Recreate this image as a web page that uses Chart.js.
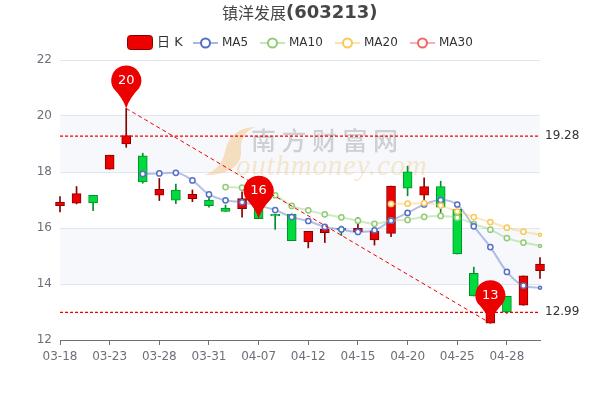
<!DOCTYPE html>
<html>
<head>
<meta charset="utf-8">
<style>
  html, body { margin: 0; padding: 0; background: #fff; }
  canvas { display: block; }
</style>
<script src="https://cdn.jsdelivr.net/npm/chart.js@4"></script>
</head>
<body>
<canvas id="chart" width="600" height="400"></canvas>
<script>
const days = ['03-18','03-21','03-22','03-23','03-24','03-25','03-28','03-29','03-30','03-31',
  '04-01','04-06','04-07','04-08','04-11','04-12','04-13','04-14','04-15','04-18',
  '04-19','04-20','04-21','04-22','04-25','04-26','04-27','04-28','04-29','05-05'];

const opens  = [16.80,16.89,17.17,18.10,19.00,18.58,17.17,17.35,17.05,17.00,16.71,16.69,16.90,16.49,16.50,15.50,15.83,15.99,15.86,15.57,15.81,18.01,17.17,17.48,16.67,14.38,12.60,13.56,13.24,14.48];
const closes = [16.93,17.23,16.90,18.60,19.30,17.65,17.38,16.99,17.20,16.80,16.59,17.05,16.33,16.43,15.55,15.88,15.96,15.93,15.99,15.88,17.50,17.42,17.48,16.74,15.07,13.57,13.50,12.99,14.29,14.71];
const lows   = [16.57,16.86,16.62,18.10,18.88,17.60,16.98,16.87,16.94,16.74,16.59,16.39,16.33,15.95,15.55,15.29,15.48,15.73,15.82,15.39,15.69,17.15,17.00,16.55,15.07,13.57,12.60,12.95,13.24,14.20];
const highs  = [17.12,17.48,17.17,18.60,20.27,18.67,17.77,17.57,17.36,17.10,16.82,17.29,17.00,16.49,16.50,15.88,16.07,16.07,16.38,15.88,17.50,18.21,17.79,17.67,16.67,14.60,13.50,13.56,14.29,14.94];

const _ = null;
const ma5  = [_,_,_,_,_,17.93,17.95,17.97,17.70,17.20,16.99,16.92,16.80,16.64,16.39,16.25,16.04,15.95,15.86,15.92,16.26,16.54,16.84,17.00,16.84,16.06,15.32,14.43,13.94,13.87];
const ma10 = [_,_,_,_,_,_,_,_,_,_,17.46,17.44,17.36,17.17,16.79,16.63,16.49,16.38,16.26,16.15,16.26,16.29,16.40,16.43,16.37,16.14,15.94,15.64,15.48,15.36];
const ma20 = [_,_,_,_,_,_,_,_,_,_,_,_,_,_,_,_,_,_,_,_,16.86,16.87,16.89,16.80,16.59,16.39,16.21,16.01,15.87,15.76];
const ma30 = days.map(() => null);

const pinIndex = [4, 12, 26];
const pinValue = [20.27, 16.33, 12.60];
const pinLabel = ['20', '16', '13'];

const levels = [19.28, 12.99];
const bands = [[14, 16], [18, 20]];
const labelEvery = 3;

const RED = '#ec0000', RED_DARK = '#8a0000', GREEN = '#00da3c', GREEN_DARK = '#008f28';
const isUp = (i) => closes[i] >= opens[i];
const sans = '"DejaVu Sans", "Noto Sans CJK SC", sans-serif';

function maLine(label, data, color, order) {
  return {
    type: 'line', label: label, data: data, order: order,
    borderColor: color + '70', borderWidth: 2,
    cubicInterpolationMode: 'monotone', clip: false,
    pointBackgroundColor: '#fff', pointBorderColor: color,
    pointBorderWidth: 1.5,
    pointRadius: (c) => c.dataIndex === days.length - 1 ? 1.5 : 2.6
  };
}

function levelLine(value) {
  return {
    type: 'line', data: days.map(() => value), order: 0,
    borderColor: '#f00000', borderWidth: 1.3, borderDash: [3, 2], pointRadius: 0
  };
}

// backdrop stripes between gridlines
const bandPlugin = {
  id: 'bands',
  beforeDraw(chart) {
    const { ctx, chartArea: a, scales: { y } } = chart;
    ctx.save();
    ctx.fillStyle = '#f6f8fc';
    bands.forEach((b) => {
      ctx.fillRect(a.left, y.getPixelForValue(b[1]), a.right - a.left, y.getPixelForValue(b[0]) - y.getPixelForValue(b[1]));
    });
    ctx.restore();
  }
};

const watermarkPlugin = {
  id: 'watermark',
  beforeDatasetsDraw(chart) {
    const { ctx } = chart;
    ctx.save();
    ctx.fillStyle = 'rgba(245,205,150,0.6)';
    ctx.beginPath();
    ctx.moveTo(255, 127);
    ctx.bezierCurveTo(236, 128, 228, 138, 225, 152);
    ctx.bezierCurveTo(222, 165, 214, 172, 204, 175);
    ctx.bezierCurveTo(222, 176, 242, 168, 241, 152);
    ctx.bezierCurveTo(240, 140, 244, 132, 255, 127);
    ctx.fill();
    ctx.textAlign = 'left';
    ctx.textBaseline = 'alphabetic';
    ctx.fillStyle = 'rgba(150,150,150,0.42)';
    ctx.font = '500 25px "Noto Sans CJK SC"';
    ctx.letterSpacing = '5.5px';
    ctx.fillText('南方财富网', 251, 150);
    ctx.fillStyle = 'rgba(245,205,150,0.45)';
    ctx.font = 'italic 29px "Liberation Serif"';
    ctx.letterSpacing = '0.8px';
    ctx.fillText('outhmoney.com', 236, 175);
    ctx.restore();
  }
};

const overlayPlugin = {
  id: 'overlay',
  afterDatasetsDraw(chart) {
    const { ctx, scales: { x, y } } = chart;
    ctx.save();
    pinIndex.forEach((idx, n) => {
      const px = x.getPixelForValue(idx);
      const py = y.getPixelForValue(pinValue[n]);
      const r = 15, cy = py - 28;
      ctx.fillStyle = '#ec0000';
      ctx.beginPath();
      ctx.arc(px, cy, r, Math.PI * 0.82, Math.PI * 0.18);
      ctx.quadraticCurveTo(px + 3, py - 10, px, py);
      ctx.quadraticCurveTo(px - 3, py - 10, px - r * Math.cos(Math.PI * 0.18), cy + r * Math.sin(Math.PI * 0.18));
      ctx.fill();
      ctx.fillStyle = '#fff';
      ctx.font = '13px ' + sans;
      ctx.textAlign = 'center';
      ctx.textBaseline = 'middle';
      ctx.fillText(pinLabel[n], px, cy);
    });
    ctx.fillStyle = '#333';
    ctx.font = '12px ' + sans;
    ctx.textAlign = 'left';
    ctx.textBaseline = 'middle';
    levels.forEach((v) => ctx.fillText(v.toFixed(2), 545, y.getPixelForValue(v)));
    ctx.restore();
  }
};

const headerPlugin = {
  id: 'header',
  afterDraw(chart) {
    const { ctx } = chart;
    ctx.save();
    ctx.textBaseline = 'middle';
    ctx.textAlign = 'left';
    ctx.fillStyle = '#464646';
    ctx.font = '16px "Noto Sans CJK SC"';
    ctx.fillText('镇洋发展', 222, 13);
    ctx.font = 'bold 18px "DejaVu Sans"';
    ctx.fillText('(603213)', 286, 13);

    // legend
    ctx.fillStyle = RED;
    ctx.strokeStyle = RED_DARK;
    ctx.lineWidth = 1;
    ctx.beginPath();
    ctx.roundRect(127.5, 35.5, 25, 14, 3);
    ctx.fill();
    ctx.stroke();
    ctx.fillStyle = '#333';
    ctx.font = '13px ' + sans;
    ctx.fillText('日 K', 157, 43);
    [['MA5', '#5470c6', 193], ['MA10', '#91cc75', 260], ['MA20', '#fac858', 335], ['MA30', '#ee6666', 410]].forEach((m) => {
      const sx = m[2];
      ctx.strokeStyle = m[1] + '80';
      ctx.lineWidth = 2;
      ctx.beginPath();
      ctx.moveTo(sx, 43);
      ctx.lineTo(sx + 25, 43);
      ctx.stroke();
      ctx.strokeStyle = m[1];
      ctx.fillStyle = '#fff';
      ctx.beginPath();
      ctx.arc(sx + 12.5, 43, 4.5, 0, Math.PI * 2);
      ctx.fill();
      ctx.stroke();
      ctx.fillStyle = '#333';
      ctx.font = '12px ' + sans;
      ctx.fillText(m[0], sx + 29, 43);
    });
    ctx.restore();
  }
};

const myChart = new Chart(document.getElementById('chart'), {
  data: {
    labels: days,
    datasets: [
      {
        type: 'bar', label: 'wick', order: 7, grouped: false, clip: false,
        data: days.map((d, i) => [lows[i], highs[i]]),
        barThickness: 1,
        backgroundColor: days.map((d, i) => isUp(i) ? RED_DARK : GREEN_DARK)
      },
      {
        type: 'bar', label: '日K', order: 6, grouped: false, clip: false,
        data: days.map((d, i) => [opens[i], closes[i]]),
        barThickness: 9,
        borderWidth: 1,
        borderSkipped: false,
        backgroundColor: days.map((d, i) => isUp(i) ? RED : GREEN),
        borderColor: days.map((d, i) => isUp(i) ? RED_DARK : GREEN_DARK)
      },
      maLine('MA5', ma5, '#5470c6', 2),
      maLine('MA10', ma10, '#91cc75', 3),
      maLine('MA20', ma20, '#fac858', 1),
      maLine('MA30', ma30, '#ee6666', 4),
      levelLine(levels[0]),
      levelLine(levels[1]),
      {
        type: 'line', order: 0, spanGaps: true, pointRadius: 0,
        borderColor: '#f00000', borderWidth: 1, borderDash: [4, 3],
        data: days.map((d, i) => i === pinIndex[0] ? pinValue[0] : i === pinIndex[2] ? pinValue[2] : null)
      }
    ]
  },
  options: {
    responsive: false,
    animation: false,
    devicePixelRatio: 1,
    layout: { padding: { top: 60, right: 60, left: 0, bottom: 0 } },
    plugins: { legend: { display: false }, title: { display: false }, tooltip: { enabled: false } },
    scales: {
      x: {
        type: 'category',
        offset: false,
        afterFit: (s) => { s.height = 60; },
        afterBuildTicks: (s) => { s.ticks = s.ticks.filter((t) => t.value % labelEvery === 0); },
        grid: { display: true, drawOnChartArea: false, drawTicks: true, tickLength: 5, tickColor: '#6e7079', offset: false },
        border: { display: true, color: '#6e7079', width: 1 },
        ticks: {
          autoSkip: false, maxRotation: 0, color: '#6e7079', padding: 5,
          font: { size: 12, family: sans },
          callback: function (value) { return this.getLabelForValue(value); }
        }
      },
      y: {
        min: 12,
        max: 22,
        afterFit: (s) => { s.width = 60; },
        grid: { color: '#e0e6f1', drawTicks: false },
        border: { display: false },
        ticks: { stepSize: 2, color: '#6e7079', padding: 8, font: { size: 12, family: sans } }
      }
    }
  },
  plugins: [bandPlugin, watermarkPlugin, overlayPlugin, headerPlugin]
});
</script>
</body>
</html>
